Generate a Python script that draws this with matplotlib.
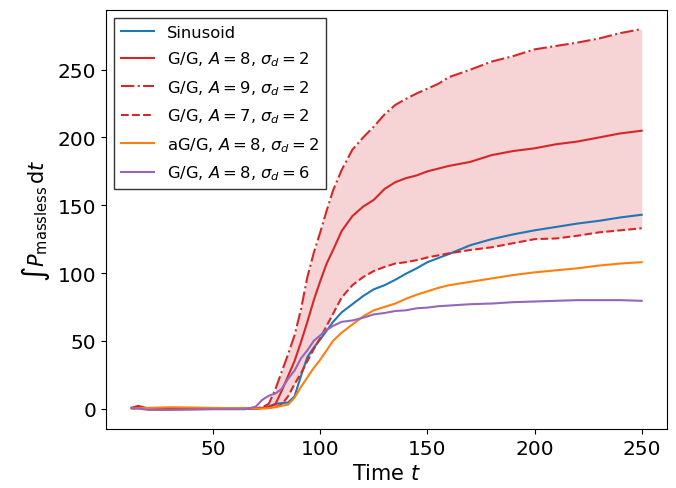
import matplotlib
matplotlib.use("Agg")
import matplotlib.pyplot as plt

# ---- data ----
time = [12, 15, 20, 30, 40, 50, 60, 65, 70, 73, 76, 79, 82, 85, 88, 91, 94, 97,
        100, 103, 106, 110, 115, 120, 125, 130, 135, 140, 145, 150, 155, 160,
        170, 180, 190, 200, 210, 220, 230, 240, 250]

sinusoid = [0.5, 0.5, 0, 0, 0, 0, 0, 0, 0,
            0.5, 1.5, 3.5, 4, 4.5, 9, 24, 38, 45, 51, 57.5, 64, 71, 77, 83, 88,
            91, 95, 99.5, 103.5, 108, 111, 114, 120.5, 125, 128.5, 131.5, 134,
            136.5, 138.5, 141, 143]

gg_a8 = [0.5, 2, 0, 0, 0, 0, 0, 0, 0,
         0.5, 1, 3, 13, 24, 35, 49, 64, 80, 94, 107, 117, 131, 142, 149, 154,
         162, 167, 170, 172, 175, 177, 179, 182, 187, 190, 192, 195, 197, 200,
         203, 205]

gg_a9 = [0, 0.5, 0, 0, 0, 0, 0, 0, 0.5,
         1, 3.5, 14, 27, 40, 54, 73, 97, 115, 130, 146, 161, 176, 191, 200, 208,
         217, 224, 228.5, 232.5, 236, 239.5, 244.5, 250, 256, 260, 265, 267.5,
         270, 273, 277, 280]

gg_a7 = [0, 0.5, 0, 0, 0, 0, 0, 0, 0,
         0.3, 0.5, 1, 3, 9, 18, 26, 35, 44, 52, 61, 70, 82, 91, 97, 101.5,
         104.5, 107, 108, 109.5, 111.5, 113, 114.5, 117, 119, 122, 125, 125.5,
         127.5, 130, 131.5, 133]

ag_a8 = [0, 0.3, 0.5, 1, 0.8, 0.5, 0.3, 0.3, 0,
         0, 0.3, 1, 2, 3, 8, 16, 23, 30, 36, 43, 50, 56, 62, 68, 72.5, 75,
         77.5, 81, 84, 86.5, 89, 91, 93.5, 96, 98.5, 100.5, 102, 103.5, 105.5,
         107, 108]

gg_s6 = [0.5, 0, -1, -1, -0.8, -0.5, -0.5, -0.5, 1.5,
         6.5, 9.5, 11, 14.5, 22, 28, 37, 43, 50, 54, 58, 61, 64, 65, 67, 69.5,
         70.5, 72, 72.5, 74, 74.5, 75.5, 76, 77, 77.5, 78.5, 79, 79.5, 80, 80,
         80, 79.5]

# ---- figure ----
fig = plt.figure(figsize=(6.76, 4.89), dpi=100)
ax = fig.add_axes([0.157, 0.1207, 0.83, 0.8568])

ax.plot(time, sinusoid, color="C0", lw=1.5, label="Sinusoid")
ax.plot(time, gg_a8, color="C3", lw=1.5, ls="-", label=r"G/G, $A = 8$, $\sigma_d = 2$")
ax.plot(time, gg_a9, color="C3", lw=1.5, ls="-.", label=r"G/G, $A = 9$, $\sigma_d = 2$")
ax.plot(time, gg_a7, color="C3", lw=1.5, ls="--", label=r"G/G, $A = 7$, $\sigma_d = 2$")
ax.fill_between(time, gg_a7, gg_a9, color="C3", alpha=0.2, lw=0)
ax.plot(time, ag_a8, color="C1", lw=1.5, label=r"aG/G, $A = 8$, $\sigma_d = 2$")
ax.plot(time, gg_s6, color="C4", lw=1.5, label=r"G/G, $A = 8$, $\sigma_d = 6$")

ax.set_xticks([50, 100, 150, 200, 250])
ax.set_yticks([0, 50, 100, 150, 200, 250])
ax.tick_params(labelsize=14.5)
ax.set_xlabel(r"Time $t$", fontsize=15)
ax.set_ylabel(r"$\int P_{\rm massless}\,{\rm d}t$", fontsize=15)

leg = ax.legend(loc="upper left", fontsize=11.8, labelspacing=0.6,
                fancybox=False, framealpha=1)
leg.get_frame().set_edgecolor("#333333")

fig.savefig("out.png", dpi=100)
